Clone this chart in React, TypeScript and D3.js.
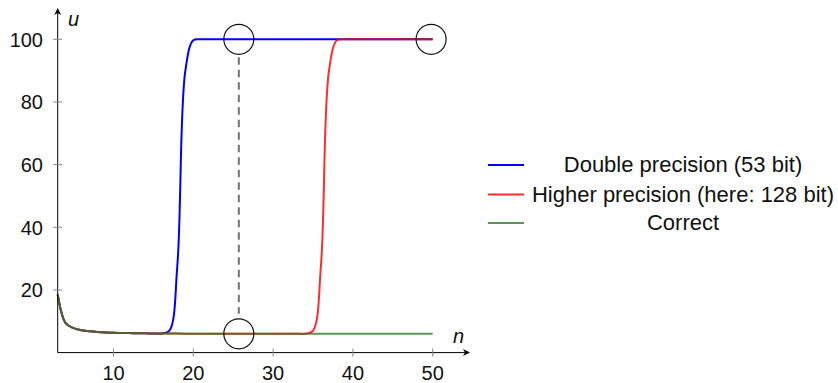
import React from 'react';
import * as d3 from 'd3';

// n = 3 .. 50
const steps = [3, 4, 5, 6, 7, 8, 9, 10, 11, 12, 13, 14, 15, 16, 17, 18, 19, 20, 21, 22, 23, 24, 25, 26,
  27, 28, 29, 30, 31, 32, 33, 34, 35, 36, 37, 38, 39, 40, 41, 42, 43, 44, 45, 46, 47, 48, 49, 50];

const correctU = [18.5, 9.378, 7.801, 7.154, 6.806, 6.592, 6.449, 6.348, 6.274, 6.218, 6.175, 6.141,
  6.114, 6.092, 6.075, 6.061, 6.049, 6.04, 6.033, 6.027, 6.022, 6.018, 6.015, 6.012, 6.01, 6.008,
  6.007, 6.005, 6.004, 6.004, 6.003, 6.002, 6.002, 6.002, 6.001, 6.001, 6.001, 6.001, 6.0, 6.0,
  6.0, 6.0, 6.0, 6.0, 6.0, 6.0, 6.0, 6.0];

const doubleU = [18.5, 9.378, 7.801, 7.154, 6.806, 6.592, 6.449, 6.348, 6.274, 6.218, 6.175, 6.141,
  6.114, 6.1, 7.0, 28, 90, 99.7, 99.98, 100, 100, 100, 100, 100, 100, 100,
  100, 100, 100, 100, 100, 100, 100, 100, 100, 100, 100, 100, 100, 100,
  100, 100, 100, 100, 100, 100, 100, 100];

const higherU = [18.5, 9.378, 7.801, 7.154, 6.806, 6.592, 6.449, 6.348, 6.274, 6.218, 6.175, 6.141,
  6.114, 6.092, 6.075, 6.061, 6.049, 6.04, 6.033, 6.027, 6.022, 6.018, 6.015, 6.012, 6.01, 6.008,
  6.007, 6.005, 6.004, 6.004, 6.003, 6.05, 7.0, 28, 90, 99.7, 99.98, 100, 100, 100,
  100, 100, 100, 100, 100, 100, 100, 100];

const xTicks = [10, 20, 30, 40, 50];
const yTicks = [20, 40, 60, 80, 100];

const markN = [25.7, 49.8, 25.7];
const markU = [100, 100, 6];

const legendLabels = ['Double precision (53 bit)', 'Higher precision (here: 128 bit)', 'Correct'];

const series = [
  {values: doubleU, color: '#0000ff', opacity: 1},
  {values: higherU, color: '#ff0000', opacity: 0.82},
  {values: correctU, color: '#2b7d2b', opacity: 0.8},
];

const font = '"Liberation Sans", Arial, sans-serif';

export default function App() {
  const width = 838, height = 383;
  const x = d3.scaleLinear().domain([3, 50]).range([57.7, 432.7]);
  const y = d3.scaleLinear().domain([0, 100]).range([352.6, 39.3]);
  const xEnd = 470, yEnd = 8;

  const line = (vals: number[]) => d3.line<number>()
    .x((_, i) => x(steps[i]))
    .y(d => y(d))
    .curve(d3.curveCatmullRom.alpha(0.5))(vals) || '';

  const x0 = x(3), y0 = y(0);

  return (
    <svg width={width} height={height} style={{position: 'absolute', left: 0, top: 0}} fontFamily={font}>
      {/* series */}
      {series.map((s, i) => (
        <path key={i} d={line(s.values)} fill="none" stroke={s.color}
              strokeOpacity={s.opacity} strokeWidth={2} strokeLinejoin="round" />
      ))}

      {/* axes */}
      <line x1={x0} x2={xEnd - 2} y1={y0} y2={y0} stroke="#000" strokeWidth={1} />
      <line x1={x0} x2={x0} y1={y0} y2={yEnd + 2} stroke="#000" strokeWidth={1} />
      <path d={`M${xEnd},${y0} L${xEnd - 7},${y0 - 3.5} L${xEnd - 5},${y0} L${xEnd - 7},${y0 + 3.5} Z`} fill="#000" />
      <path d={`M${x0},${yEnd} L${x0 - 3.5},${yEnd + 7} L${x0},${yEnd + 5} L${x0 + 3.5},${yEnd + 7} Z`} fill="#000" />

      {xTicks.map(t => (
        <g key={t}>
          <line x1={x(t)} x2={x(t)} y1={y0 - 4} y2={y0 + 4} stroke="#888" strokeWidth={1} />
          <text x={x(t)} y={380} textAnchor="middle" fontSize={20} fill="#111">{t}</text>
        </g>
      ))}
      {yTicks.map(t => (
        <g key={t}>
          <line x1={x0 - 4.5} x2={x0 + 4.5} y1={y(t)} y2={y(t)} stroke="#888" strokeWidth={1} />
          <text x={43} y={y(t) + 7.5} textAnchor="end" fontSize={20} fill="#111">{t}</text>
        </g>
      ))}
      <text x={68} y={26} fontSize={20} fontStyle="italic" fill="#111">u</text>
      <text x={453} y={343} fontSize={20} fontStyle="italic" fill="#111">n</text>

      {/* dashed guide and circles */}
      <line x1={x(markN[0])} x2={x(markN[0])} y1={y(markU[0]) + 18} y2={y(markU[2]) - 20}
            stroke="#727272" strokeWidth={2} strokeDasharray="7.5,5" />
      {markN.map((n, i) => (
        <circle key={i} cx={x(n)} cy={y(markU[i])} r={15} fill="none" stroke="#111" strokeWidth={1.2} />
      ))}

      {/* legend */}
      {legendLabels.map((lab, i) => {
        const base = [172, 201.5, 230][i];
        return (
          <g key={lab}>
            <line x1={488} x2={524} y1={base - 7} y2={base - 7} stroke={series[i].color}
                  strokeOpacity={series[i].opacity} strokeWidth={2} />
            <text x={683} y={base} textAnchor="middle" fontSize={22} fill="#111">{lab}</text>
          </g>
        );
      })}
    </svg>
  );
}
